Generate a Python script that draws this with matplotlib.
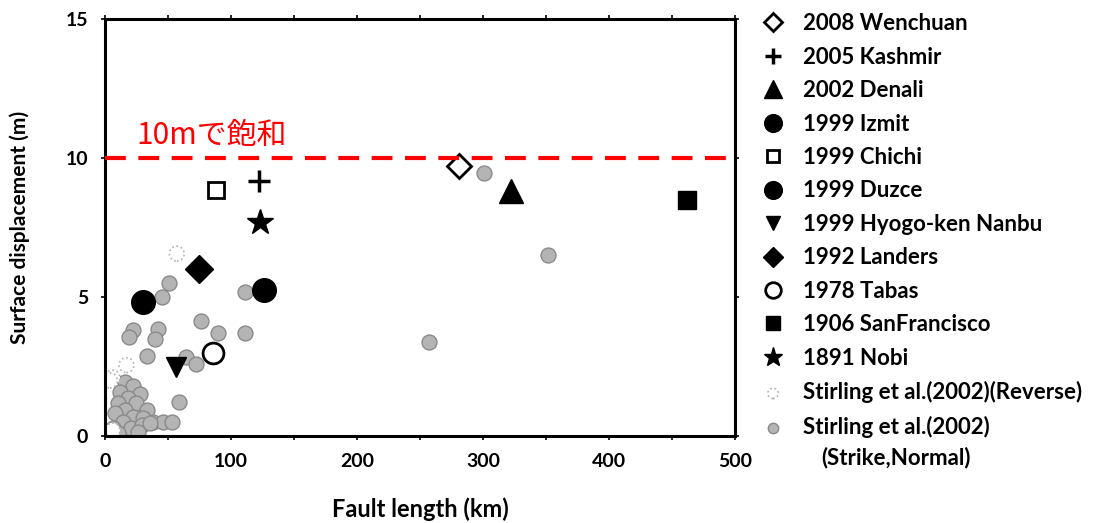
import numpy as np
import matplotlib
matplotlib.use("Agg")
import matplotlib.pyplot as plt

plt.rcParams['font.family'] = ['Lato', 'DejaVu Sans']

# named events: (label, length km, displacement m)
event_names = ["2008 Wenchuan", "2005 Kashmir", "2002 Denali", "1999 Izmit", "1999 Chichi",
               "1999 Duzce", "1999 Hyogo-ken Nanbu", "1992 Landers", "1978 Tabas",
               "1906 SanFrancisco", "1891 Nobi"]
event_len = [281, 122, 322, 126, 88, 30, 56, 75, 86, 462, 123]
event_disp = [9.7, 9.17, 8.8, 5.25, 8.85, 4.82, 2.5, 6.0, 3.0, 8.5, 7.7]

# Stirling et al. (2002), reverse
rev_len = [57, 17, 6, 4, 6]
rev_disp = [6.56, 2.55, 2.1, 2.0, 0.2]

# Stirling et al. (2002), strike-slip / normal
ss_len = [301, 352, 257, 51, 45, 111, 76, 22, 19, 42, 40, 90, 111, 33, 64, 72, 59,
          16, 22, 12, 28, 18, 10, 25, 33, 16, 8, 22, 30, 14, 38, 46, 53, 6, 21, 29, 4, 36, 10, 26]
ss_disp = [9.46, 6.5, 3.38, 5.5, 5.0, 5.18, 4.14, 3.8, 3.56, 3.85, 3.5, 3.7, 3.7, 2.88, 2.84, 2.6, 1.22,
           1.95, 1.8, 1.6, 1.5, 1.37, 1.2, 1.2, 0.95, 0.95, 0.82, 0.7, 0.65, 0.5, 0.5, 0.5, 0.5, 0.3, 0.3,
           0.4, 0.05, 0.47, 0.1, 0.15]

saturation = 10

fig = plt.figure(figsize=(10.97, 5.23), dpi=100)
ax = fig.add_axes([0.0957, 0.1663, 0.5742, 0.7974])

ax.scatter(ss_len, ss_disp, s=115, facecolor='#b4b4b4', edgecolor='#8a8a8a', linewidth=1,
           zorder=2, label=None)
ax.scatter(rev_len, rev_disp, s=115, facecolor='white', edgecolor='#b0b0b0', linewidth=1.2,
           linestyle=':', zorder=2)

styles = [
    dict(marker='D', ms=12, mfc='white', mec='black', mew=2),
    dict(marker='+', ms=16, mfc='black', mec='black', mew=2.5),
    dict(marker='^', ms=17, mfc='black', mec='black'),
    dict(marker='o', ms=17, mfc='black', mec='black'),
    dict(marker='s', ms=12, mfc='white', mec='black', mew=2),
    dict(marker='o', ms=17, mfc='black', mec='black'),
    dict(marker='v', ms=14, mfc='black', mec='black'),
    dict(marker='D', ms=14, mfc='black', mec='black'),
    dict(marker='o', ms=15, mfc='white', mec='black', mew=2),
    dict(marker='s', ms=13, mfc='black', mec='black'),
    dict(marker='*', ms=19, mfc='black', mec='black'),
]
handles = []
for name, x, y, st in zip(event_names, event_len, event_disp, styles):
    h, = ax.plot([x], [y], linestyle='none', label=name, zorder=3, **st)
    handles.append(h)

h_rev = ax.scatter([], [], s=100, facecolor='white', edgecolor='#b0b0b0', linewidth=1.2,
                   linestyle=':', label='Stirling et al.(2002)(Reverse)')
h_ss = ax.scatter([], [], s=100, facecolor='#b4b4b4', edgecolor='#8a8a8a',
                  label='Stirling et al.(2002)')
handles += [h_rev, h_ss]

ax.plot([0, 500], [saturation, saturation], color='#ff0000', lw=3, dashes=(5, 3), zorder=4)
ax.text(25, 10.25, '10mで飽和', color='#ff0000', fontsize=21.5,
        family=['Noto Sans CJK JP', 'DejaVu Sans'], va='bottom', ha='left')

ax.set_xlim(0, 500)
ax.set_ylim(0, 15)
ax.set_xticks([0, 100, 200, 300, 400, 500])
ax.set_xticks(np.arange(50, 500, 100), minor=True)
ax.set_yticks([0, 5, 10, 15])
ax.tick_params(which='both', direction='out', top=True, right=True, length=3, width=1.2,
               labelsize=14, pad=9)
for lab in ax.get_xticklabels() + ax.get_yticklabels():
    lab.set_fontweight('bold')
for sp in ax.spines.values():
    sp.set_linewidth(2.2)

ax.set_xlabel('Fault length (km)', fontsize=17, fontweight='bold', labelpad=20)
ax.set_ylabel('Surface displacement (m)', fontsize=15, fontweight='bold', labelpad=26)

leg = ax.legend(handles=handles, loc='upper left', bbox_to_anchor=(1.02, 1.035), frameon=False,
                fontsize=16, handletextpad=0.6, labelspacing=0.56, handlelength=1.5,
                markerscale=0.75, borderaxespad=0)
for t in leg.get_texts():
    t.set_fontweight('bold')

# second line of the last legend entry, centred under the first
fig.canvas.draw()
bb = leg.get_texts()[-1].get_window_extent()
cx = (bb.x0 + bb.x1) / 2 / fig.bbox.width
cy = (bb.y0 - 9) / fig.bbox.height
fig.text(cx, cy, '(Strike,Normal)', fontsize=16, fontweight='bold', ha='center', va='top')

fig.savefig('out.png', dpi=100)
